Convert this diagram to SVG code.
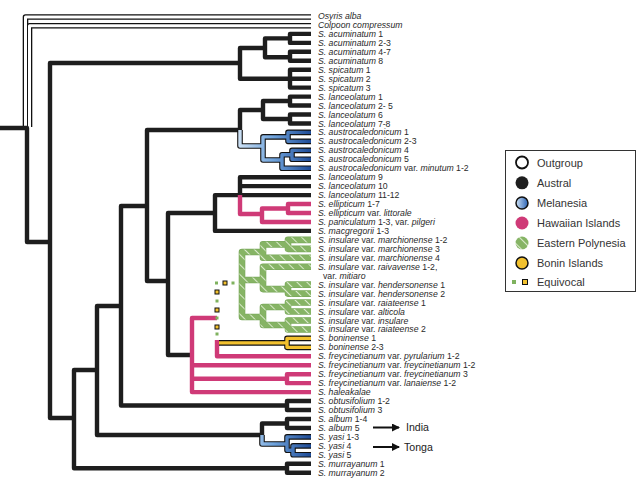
<svg xmlns="http://www.w3.org/2000/svg" width="640" height="483" viewBox="0 0 640 483">
<defs>
<linearGradient id="bg" gradientUnits="userSpaceOnUse" x1="236" y1="0" x2="311" y2="0">
<stop offset="0" stop-color="#d4e6f7"/><stop offset="0.5" stop-color="#6fa3dc"/><stop offset="1" stop-color="#1d4a96"/>
</linearGradient>
<linearGradient id="lgb" x1="0" y1="0" x2="1" y2="0">
<stop offset="0" stop-color="#cfe3f6"/><stop offset="1" stop-color="#2a62b5"/>
</linearGradient>
<pattern id="gp" patternUnits="userSpaceOnUse" width="7" height="7" patternTransform="rotate(45)">
<rect width="7" height="7" fill="#86b465"/><line x1="0" y1="3.5" x2="7" y2="3.5" stroke="#e4f0da" stroke-width="0.9"/>
</pattern>
<marker id="ar" markerWidth="8" markerHeight="8" refX="7" refY="4" orient="auto" markerUnits="userSpaceOnUse">
<path d="M0 0 L8 4 L0 8 Z" fill="#111"/>
</marker>
</defs>
<style>
.b{fill:none;stroke:#1e1e1e;stroke-width:4.4;stroke-linejoin:round}
.ok{fill:none;stroke:#111;stroke-width:5.6;stroke-linejoin:round}
.ow{fill:none;stroke:#fff;stroke-width:3;stroke-linejoin:round}
.bl{fill:none;stroke:url(#bg);stroke-width:3.4;stroke-linejoin:round}
.pk{fill:none;stroke:#cf3a77;stroke-width:4.4;stroke-linejoin:round}
.yl{fill:none;stroke:#f2c12e;stroke-width:3.4;stroke-linejoin:round}
.gr{fill:none;stroke:#7aa95b;stroke-width:6.6;stroke-linejoin:round}
.gi{fill:none;stroke:url(#gp);stroke-width:5.2;stroke-linejoin:round}
.ey{fill:#f2c12e;stroke:#111;stroke-width:1}
.eg{fill:#7fb25e}
text{font-family:"Liberation Sans",Arial,sans-serif;font-size:8.7px;fill:#2a2a2a}
.i{font-style:italic}
.lg{font-size:11px;fill:#333}
.ann{font-size:10.6px;fill:#222}
</style>

<g id="connectors">
<!-- outgroup -->
<path class="ok" d="M311 17 H25.5 V127"/>
<path class="ok" d="M311 25.8 H29.5 V127"/>
<path class="ow" d="M311 17 H25.5 V127"/>
<path class="ow" d="M311 25.8 H29.5 V127"/>
<!-- root and backbone -->
<path class="b" d="M0 128 H27 V242 H50"/>
<path class="b" d="M240 63 H50 V418 H74"/>
<path class="b" d="M265 48 H240 V78.7 H290"/>
<path class="b" d="M290 38.4 H265 V57.3 H290"/>
<path class="b" d="M311 33.9 H290 V42.9 H311"/>
<path class="b" d="M311 51.8 H290 V60.8 H311"/>
<path class="b" d="M311 69.7 H290 V87.6 H311 M290 78.7 H311"/>
<path class="b" d="M97 370 H74 V468.2 H287"/>
<path class="b" d="M311 463.75 H287 V472.7 H311"/>
<path class="b" d="M121 306 H97 V435 H262"/>
<path class="b" d="M147 206 H121 V405.5 H287"/>
<path class="b" d="M311 401.07 H287 V410.02 H311"/>
<path class="b" d="M240 130 H147 V281 H168"/>
<path class="b" d="M263 110 H240 V130"/>
<path class="b" d="M290 101 H263 V119 H290"/>
<path class="b" d="M311 96.6 H290 V105.55 H311"/>
<path class="b" d="M311 114.51 H290 V123.46 H311"/>
<path class="b" d="M215 213 H168 V355 H192"/>
<path class="b" d="M240 195.1 H215 V230.92 H311"/>
<path class="b" d="M311 177.19 H240 V195.1 H311 M240 186.15 H311"/>
<path class="b" d="M287 423.5 H262 V435"/>
<path class="b" d="M311 418.98 H287 V427.93 H311"/>
<!-- Melanesia -->
<g>
<path class="ok" d="M240 130 V146 H263"/>
<path class="ok" d="M288 136.9 H263 V160 H282"/>
<path class="ok" d="M311 132.42 H288 V141.37 H311"/>
<path class="ok" d="M292 154.8 H282 V168.24 H311"/>
<path class="ok" d="M311 150.33 H292 V159.28 H311"/>
<path class="ok" d="M262 435 V444 H287"/>
<path class="ok" d="M311 436.89 H287 V450.3 H293"/>
<path class="ok" d="M311 445.84 H293 V454.8 H311"/>
<path class="bl" d="M240 130 V146 H263"/>
<path class="bl" d="M288 136.9 H263 V160 H282"/>
<path class="bl" d="M311 132.42 H288 V141.37 H311"/>
<path class="bl" d="M292 154.8 H282 V168.24 H311"/>
<path class="bl" d="M311 150.33 H292 V159.28 H311"/>
<path class="bl" d="M262 435 V444 H287"/>
<path class="bl" d="M311 436.89 H287 V450.3 H293"/>
<path class="bl" d="M311 445.84 H293 V454.8 H311"/>
</g>
<!-- Hawaiian -->
<path class="pk" d="M240 195.1 V214 H262"/>
<path class="pk" d="M288 208.5 H262 V221.97 H311"/>
<path class="pk" d="M311 204.06 H288 V213.01 H311"/>
<path class="pk" d="M217 318 H192 V392.11 H311 M192 365.25 H311 M192 378.7 H287"/>
<path class="pk" d="M311 374.2 H287 V383.16 H311"/>
<path class="pk" d="M217 340 V356.29 H311"/>
<!-- Bonin -->
<path class="ok" d="M219 342.9 H287 M311 338.38 H287 V347.34 H311"/>
<path class="yl" d="M219 342.9 H287 M311 338.38 H287 V347.34 H311"/>
<!-- Eastern Polynesia -->
<g>
<path class="gr" d="M263 252 H242 V317 H263 M242 280 H263"/>
<path class="gr" d="M288 244.4 H263 V257.8 H311"/>
<path class="gr" d="M311 239.88 H288 V248.83 H311"/>
<path class="gr" d="M311 266.74 H263 V289.1 H288"/>
<path class="gr" d="M311 284.65 H288 V293.61 H311"/>
<path class="gr" d="M288 307 H263 V325 H288"/>
<path class="gr" d="M311 302.56 H288 V311.52 H311"/>
<path class="gr" d="M311 320.47 H288 V329.43 H311"/>
<path class="gi" d="M263 252 H242 V317 H263 M242 280 H263"/>
<path class="gi" d="M288 244.4 H263 V257.8 H311"/>
<path class="gi" d="M311 239.88 H288 V248.83 H311"/>
<path class="gi" d="M311 266.74 H263 V289.1 H288"/>
<path class="gi" d="M311 284.65 H288 V293.61 H311"/>
<path class="gi" d="M288 307 H263 V325 H288"/>
<path class="gi" d="M311 302.56 H288 V311.52 H311"/>
<path class="gi" d="M311 320.47 H288 V329.43 H311"/>
</g>
<!-- Equivocal -->
<rect class="eg" x="215" y="281.5" width="3" height="3"/>
<rect class="ey" x="223" y="281" width="4" height="4"/>
<rect class="eg" x="231.5" y="281.5" width="3" height="3"/>
<rect class="ey" x="215" y="290" width="4" height="4"/>
<rect class="eg" x="215.5" y="299.5" width="3" height="3"/>
<rect class="ey" x="215" y="308" width="4" height="4"/>
<rect class="eg" x="215.5" y="316.5" width="3" height="3"/>
<rect class="ey" x="215" y="325" width="4" height="4"/>
<rect class="eg" x="215.5" y="332.5" width="3" height="3"/>
<!-- arrows -->
<line x1="373" y1="427.5" x2="399" y2="427.5" stroke="#111" stroke-width="2" marker-end="url(#ar)"/>
<line x1="373" y1="447" x2="399" y2="447" stroke="#111" stroke-width="2" marker-end="url(#ar)"/>
</g>

<g id="labels">
<text x="318" y="19.1" class="i">Osyris alba</text>
<text x="318" y="28" class="i">Colpoon compressum</text>
<text x="318" y="36.9"><tspan class="i">S. acuminatum</tspan> 1</text>
<text x="318" y="45.9"><tspan class="i">S. acuminatum</tspan> 2-3</text>
<text x="318" y="54.8"><tspan class="i">S. acuminatum</tspan> 4-7</text>
<text x="318" y="63.8"><tspan class="i">S. acuminatum</tspan> 8</text>
<text x="318" y="72.7"><tspan class="i">S. spicatum</tspan> 1</text>
<text x="318" y="81.7"><tspan class="i">S. spicatum</tspan> 2</text>
<text x="318" y="90.6"><tspan class="i">S. spicatum</tspan> 3</text>
<text x="318" y="99.6"><tspan class="i">S. lanceolatum</tspan> 1</text>
<text x="318" y="108.6"><tspan class="i">S. lanceolatum</tspan> 2- 5</text>
<text x="318" y="117.5"><tspan class="i">S. lanceolatum</tspan> 6</text>
<text x="318" y="126.5"><tspan class="i">S. lanceolatum</tspan> 7-8</text>
<text x="318" y="135.4"><tspan class="i">S. austrocaledonicum</tspan> 1</text>
<text x="318" y="144.4"><tspan class="i">S. austrocaledonicum</tspan> 2-3</text>
<text x="318" y="153.3"><tspan class="i">S. austrocaledonicum</tspan> 4</text>
<text x="318" y="162.3"><tspan class="i">S. austrocaledonicum</tspan> 5</text>
<text x="318" y="171.2"><tspan class="i">S. austrocaledonicum</tspan> var. <tspan class="i">minutum</tspan> 1-2</text>
<text x="318" y="180.2"><tspan class="i">S. lanceolatum</tspan> 9</text>
<text x="318" y="189.2"><tspan class="i">S. lanceolatum</tspan> 10</text>
<text x="318" y="198.1"><tspan class="i">S. lanceolatum</tspan> 11-12</text>
<text x="318" y="207.1"><tspan class="i">S. ellipticum</tspan> 1-7</text>
<text x="318" y="216"><tspan class="i">S. ellipticum</tspan> var. <tspan class="i">littorale</tspan></text>
<text x="318" y="225"><tspan class="i">S. paniculatum</tspan> 1-3, var. <tspan class="i">pilgeri</tspan></text>
<text x="318" y="233.9"><tspan class="i">S. macgregorii</tspan> 1-3</text>
<text x="318" y="242.9"><tspan class="i">S. insulare</tspan> var. <tspan class="i">marchionense</tspan> 1-2</text>
<text x="318" y="251.8"><tspan class="i">S. insulare</tspan> var. <tspan class="i">marchionense</tspan> 3</text>
<text x="318" y="260.8"><tspan class="i">S. insulare</tspan> var. <tspan class="i">marchionense</tspan> 4</text>
<text x="318" y="269.7"><tspan class="i">S. insulare</tspan> var. <tspan class="i">raivavense</tspan> 1-2,</text>
<text x="323" y="278.7">var. <tspan class="i">mitiaro</tspan></text>
<text x="318" y="287.7"><tspan class="i">S. insulare</tspan> var. <tspan class="i">hendersonense</tspan> 1</text>
<text x="318" y="296.6"><tspan class="i">S. insulare</tspan> var. <tspan class="i">hendersonense</tspan> 2</text>
<text x="318" y="305.6"><tspan class="i">S. insulare</tspan> var. <tspan class="i">raiateense</tspan> 1</text>
<text x="318" y="314.5"><tspan class="i">S. insulare</tspan> var. <tspan class="i">alticola</tspan></text>
<text x="318" y="323.5"><tspan class="i">S. insulare</tspan> var. <tspan class="i">insulare</tspan></text>
<text x="318" y="332.4"><tspan class="i">S. insulare</tspan> var. <tspan class="i">raiateense</tspan> 2</text>
<text x="318" y="341.4"><tspan class="i">S. boninense</tspan> 1</text>
<text x="318" y="350.3"><tspan class="i">S. boninense</tspan> 2-3</text>
<text x="318" y="359.3"><tspan class="i">S. freycinetianum</tspan> var. <tspan class="i">pyrularium</tspan> 1-2</text>
<text x="318" y="368.3"><tspan class="i">S. freycinetianum</tspan> var. <tspan class="i">freycinetianum</tspan> 1-2</text>
<text x="318" y="377.2"><tspan class="i">S. freycinetianum</tspan> var. <tspan class="i">freycinetianum</tspan> 3</text>
<text x="318" y="386.2"><tspan class="i">S. freycinetianum</tspan> var. <tspan class="i">lanaiense</tspan> 1-2</text>
<text x="318" y="395.1"><tspan class="i">S. haleakalae</tspan></text>
<text x="318" y="404.1"><tspan class="i">S. obtusifolium</tspan> 1-2</text>
<text x="318" y="413"><tspan class="i">S. obtusifolium</tspan> 3</text>
<text x="318" y="422"><tspan class="i">S. album</tspan> 1-4</text>
<text x="318" y="430.9"><tspan class="i">S. album</tspan> 5</text>
<text x="318" y="439.9"><tspan class="i">S. yasi</tspan> 1-3</text>
<text x="318" y="448.8"><tspan class="i">S. yasi</tspan> 4</text>
<text x="318" y="457.8"><tspan class="i">S. yasi</tspan> 5</text>
<text x="318" y="466.8"><tspan class="i">S. murrayanum</tspan> 1</text>
<text x="318" y="475.7"><tspan class="i">S. murrayanum</tspan> 2</text>
<text x="406" y="431.3" class="ann">India</text>
<text x="404" y="450.8" class="ann">Tonga</text>
</g>

<g id="legend">
<rect x="505.5" y="150.5" width="130" height="141" fill="#fff" stroke="#333" stroke-width="1"/>
<circle cx="522" cy="162.5" r="6" fill="#fff" stroke="#111" stroke-width="1.8"/>
<circle cx="522" cy="182.8" r="6.5" fill="#1e1e1e"/>
<circle cx="522" cy="203" r="6" fill="url(#lgb)" stroke="#111" stroke-width="1.5"/>
<circle cx="522" cy="223" r="6.5" fill="#cf3a77"/>
<circle cx="522" cy="243" r="6.5" fill="url(#gp)"/>
<circle cx="522" cy="263" r="6" fill="#f2c12e" stroke="#111" stroke-width="1.5"/>
<rect class="eg" x="512" y="280" width="4" height="4"/>
<rect class="ey" x="522.5" y="279.5" width="5" height="5"/>
<text x="537" y="166.5" class="lg">Outgroup</text>
<text x="537" y="186.7" class="lg">Austral</text>
<text x="537" y="207" class="lg">Melanesia</text>
<text x="537" y="227" class="lg">Hawaiian Islands</text>
<text x="537" y="247" class="lg">Eastern Polynesia</text>
<text x="537" y="267" class="lg">Bonin Islands</text>
<text x="537" y="286" class="lg">Equivocal</text>
</g>
</svg>
